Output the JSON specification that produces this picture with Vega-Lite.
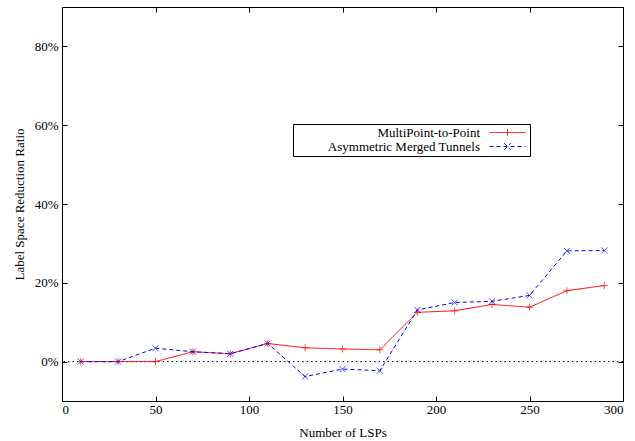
{
  "$schema": "https://vega.github.io/schema/vega-lite/v6.json",
  "width": 561,
  "height": 394,
  "autosize": "none",
  "padding": {"left": 62, "top": 7, "right": 12, "bottom": 40},
  "background": "white",
  "config": {
    "font": "Liberation Serif, Times New Roman, DejaVu Serif, serif",
    "view": {"stroke": "black", "strokeWidth": 1},
    "axis": {
      "domainColor": "black",
      "tickColor": "black",
      "labelColor": "black",
      "labelFont": "Liberation Serif, Times New Roman, DejaVu Serif, serif",
      "labelFontSize": 13,
      "titleFont": "Liberation Serif, Times New Roman, DejaVu Serif, serif",
      "titleFontSize": 13,
      "titleFontWeight": "normal",
      "titleColor": "black",
      "grid": false,
      "tickSize": -5
    }
  },
  "datasets": {
    "lsp": [
      {"lsps": 10, "ratio": 0.0, "series": "MultiPoint-to-Point"},
      {"lsps": 30, "ratio": 0.0, "series": "MultiPoint-to-Point"},
      {"lsps": 50, "ratio": 0.0, "series": "MultiPoint-to-Point"},
      {"lsps": 70, "ratio": 0.025, "series": "MultiPoint-to-Point"},
      {"lsps": 90, "ratio": 0.020, "series": "MultiPoint-to-Point"},
      {"lsps": 110, "ratio": 0.046, "series": "MultiPoint-to-Point"},
      {"lsps": 130, "ratio": 0.035, "series": "MultiPoint-to-Point"},
      {"lsps": 150, "ratio": 0.032, "series": "MultiPoint-to-Point"},
      {"lsps": 170, "ratio": 0.030, "series": "MultiPoint-to-Point"},
      {"lsps": 190, "ratio": 0.125, "series": "MultiPoint-to-Point"},
      {"lsps": 210, "ratio": 0.129, "series": "MultiPoint-to-Point"},
      {"lsps": 230, "ratio": 0.145, "series": "MultiPoint-to-Point"},
      {"lsps": 250, "ratio": 0.138, "series": "MultiPoint-to-Point"},
      {"lsps": 270, "ratio": 0.180, "series": "MultiPoint-to-Point"},
      {"lsps": 290, "ratio": 0.193, "series": "MultiPoint-to-Point"},
      {"lsps": 10, "ratio": 0.0, "series": "Asymmetric Merged Tunnels"},
      {"lsps": 30, "ratio": 0.0, "series": "Asymmetric Merged Tunnels"},
      {"lsps": 50, "ratio": 0.034, "series": "Asymmetric Merged Tunnels"},
      {"lsps": 70, "ratio": 0.025, "series": "Asymmetric Merged Tunnels"},
      {"lsps": 90, "ratio": 0.020, "series": "Asymmetric Merged Tunnels"},
      {"lsps": 110, "ratio": 0.046, "series": "Asymmetric Merged Tunnels"},
      {"lsps": 130, "ratio": -0.038, "series": "Asymmetric Merged Tunnels"},
      {"lsps": 150, "ratio": -0.019, "series": "Asymmetric Merged Tunnels"},
      {"lsps": 170, "ratio": -0.023, "series": "Asymmetric Merged Tunnels"},
      {"lsps": 190, "ratio": 0.131, "series": "Asymmetric Merged Tunnels"},
      {"lsps": 210, "ratio": 0.150, "series": "Asymmetric Merged Tunnels"},
      {"lsps": 230, "ratio": 0.153, "series": "Asymmetric Merged Tunnels"},
      {"lsps": 250, "ratio": 0.168, "series": "Asymmetric Merged Tunnels"},
      {"lsps": 270, "ratio": 0.281, "series": "Asymmetric Merged Tunnels"},
      {"lsps": 290, "ratio": 0.282, "series": "Asymmetric Merged Tunnels"}
    ]
  },
  "data": {"name": "lsp"},
  "resolve": {"axis": {"x": "independent", "y": "independent"}},
  "layer": [
    {
      "data": {"values": [{}]},
      "mark": {"type": "rule", "color": "black", "strokeDash": [1.5, 3], "strokeWidth": 1},
      "encoding": {
        "y": {"datum": 0, "type": "quantitative", "scale": {"domain": [-0.1, 0.9], "nice": false}, "axis": null}
      }
    },
    {
      "mark": {"type": "line", "strokeWidth": 1},
      "encoding": {
        "x": {
          "field": "lsps", "type": "quantitative",
          "scale": {"domain": [0, 300], "nice": false},
          "axis": {"orient": "bottom", "values": [0, 50, 100, 150, 200, 250, 300], "title": "Number of LSPs", "labelPadding": 7, "titlePadding": 10, "domain": false}
        },
        "y": {
          "field": "ratio", "type": "quantitative",
          "scale": {"domain": [-0.1, 0.9], "nice": false},
          "axis": {"orient": "left", "values": [0, 0.2, 0.4, 0.6, 0.8], "format": ".0%", "title": "Label Space Reduction Ratio", "labelPadding": 9, "titlePadding": 8, "domain": false}
        },
        "color": {
          "field": "series", "type": "nominal",
          "scale": {"domain": ["MultiPoint-to-Point", "Asymmetric Merged Tunnels"], "range": ["#ff0000", "#0000ff"]},
          "legend": {
            "title": null, "orient": "none", "legendX": 231, "legendY": 117,
            "strokeColor": "black", "fillColor": "white", "padding": 2,
            "labelFont": "Liberation Serif, Times New Roman, DejaVu Serif, serif", "labelFontSize": 13, "labelColor": "black",
            "labelAlign": "right", "labelOffset": -34, "labelLimit": 400,
            "symbolOffset": 206, "symbolSize": 144, "symbolOpacity": 1, "symbolStrokeWidth": 1, "rowPadding": 0
          }
        },
        "strokeDash": {
          "field": "series", "type": "nominal",
          "scale": {"domain": ["MultiPoint-to-Point", "Asymmetric Merged Tunnels"], "range": [[1, 0], [4, 3]]}
        }
      }
    },
    {
      "transform": [{"filter": "datum.series === 'MultiPoint-to-Point'"}],
      "mark": {"type": "point", "shape": "M-1,0H1M0,-1V1", "size": 49, "filled": false, "color": "#ff0000", "strokeWidth": 1},
      "encoding": {
        "x": {"field": "lsps", "type": "quantitative", "axis": null},
        "y": {"field": "ratio", "type": "quantitative", "axis": null}
      }
    },
    {
      "transform": [{"filter": "datum.series === 'Asymmetric Merged Tunnels'"}],
      "mark": {"type": "point", "shape": "M-1,-1L1,1M-1,1L1,-1", "size": 36, "filled": false, "color": "#0000ff", "strokeWidth": 1},
      "encoding": {
        "x": {"field": "lsps", "type": "quantitative", "axis": null},
        "y": {"field": "ratio", "type": "quantitative", "axis": null}
      }
    },
    {
      "mark": {"type": "point", "filled": false, "opacity": 0, "strokeWidth": 1},
      "encoding": {
        "x": {"field": "lsps", "type": "quantitative", "axis": {"orient": "top", "values": [0, 50, 100, 150, 200, 250, 300], "labels": false, "title": null, "domain": false}},
        "y": {"field": "ratio", "type": "quantitative", "axis": {"orient": "right", "values": [0, 0.2, 0.4, 0.6, 0.8], "labels": false, "title": null, "domain": false}},
        "color": {"field": "series", "type": "nominal"},
        "strokeDash": {"field": "series", "type": "nominal"},
        "shape": {
          "field": "series", "type": "nominal",
          "scale": {"domain": ["MultiPoint-to-Point", "Asymmetric Merged Tunnels"], "range": ["M-3,0H3M0,-0.55V0.55", "M-3,0H3M-0.55,-0.55L0.55,0.55M-0.55,0.55L0.55,-0.55"]}
        }
      }
    }
  ]
}
